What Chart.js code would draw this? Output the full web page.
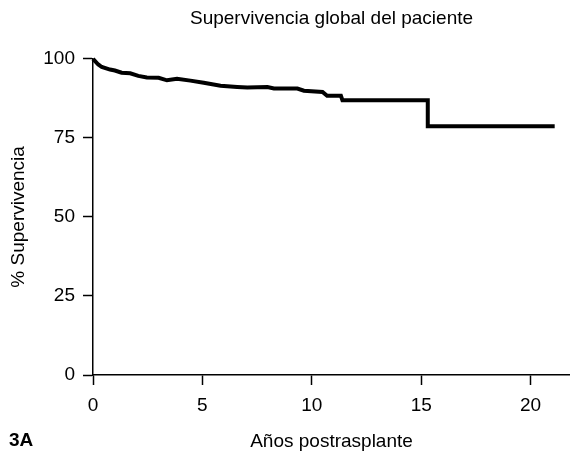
<!DOCTYPE html>
<html>
<head>
<meta charset="utf-8">
<script src="https://cdn.jsdelivr.net/npm/chart.js@4.4.1/dist/chart.umd.min.js"></script>
<style>
  html, body { margin: 0; padding: 0; background: #fff; }
  #wrap { width: 570px; height: 457px; }
</style>
</head>
<body>
<div id="wrap"><canvas id="chart" width="570" height="457"></canvas></div>
<script>
// Kaplan-Meier curve
const years = [0, 0.24, 0.4, 0.78, 1.0, 1.31, 1.7, 2.07, 2.46, 3.0, 3.38, 3.84, 4.45, 5.06, 5.83, 6.59, 7.05, 7.97, 8.27, 9.34, 9.64, 10.49, 10.7, 11.33, 11.4, 15.3, 15.3, 21.1];
const survival = [100, 98.2, 97.4, 96.6, 96.3, 95.6, 95.4, 94.6, 94.1, 94.0, 93.2, 93.7, 93.1, 92.4, 91.5, 91.1, 90.9, 91.1, 90.6, 90.6, 89.9, 89.5, 88.3, 88.3, 86.9, 86.9, 78.7, 78.7];
const xTicks = [0, 5, 10, 15, 20];
const yTicks = [0, 25, 50, 75, 100];

const FONT = "'Liberation Sans', Arial, Helvetica, sans-serif";

// "3A" panel label bottom-left
const panelLabel = {
    id: 'panelLabel',
    afterDraw(chart) {
        const ctx = chart.ctx;
        ctx.save();
        ctx.font = 'bold 19px ' + FONT;
        ctx.fillStyle = '#000';
        ctx.textBaseline = 'middle';
        ctx.fillText('3A', 9, 441);
        ctx.restore();
    }
};

new Chart(document.getElementById('chart'), {
    type: 'line',
    data: {
        datasets: [{
            data: years.map((x, i) => ({ x: x, y: survival[i] })),
            borderColor: '#000',
            borderWidth: 4,
            pointRadius: 0,
            tension: 0,
            fill: false,
            clip: false
        }]
    },
    options: {
        responsive: false,
        animation: false,
        layout: { padding: 0 },
        plugins: {
            legend: { display: false },
            tooltip: { enabled: false },
            title: {
                display: true,
                fullSize: false,
                text: 'Supervivencia global del paciente',
                color: '#000',
                font: { family: FONT, size: 19, weight: 'normal' },
                padding: { top: 7, bottom: 29 },
                align: 'center'
            }
        },
        scales: {
            x: {
                type: 'linear',
                min: 0,
                max: 21.8,
                afterBuildTicks: (scale) => { scale.ticks = xTicks.map(v => ({ value: v })); },
                afterFit: (scale) => { scale.height = 82; },
                grid: { drawOnChartArea: false, color: '#000', tickLength: 10, tickWidth: 1.5 },
                border: { display: true, color: '#000', width: 1.5 },
                ticks: { color: '#000', font: { family: FONT, size: 19 }, padding: 9, maxRotation: 0 },
                title: { display: true, text: 'Años postrasplante', color: '#000', font: { family: FONT, size: 19 }, padding: { top: 6 } }
            },
            y: {
                min: 0,
                max: 100,
                afterBuildTicks: (scale) => { scale.ticks = yTicks.map(v => ({ value: v })); },
                afterFit: (scale) => { scale.width = 93; },
                grid: { drawOnChartArea: false, color: '#000', tickLength: 10, tickWidth: 1.5 },
                border: { display: true, color: '#000', width: 1.5 },
                ticks: { color: '#000', font: { family: FONT, size: 19 }, padding: 8 },
                title: { display: true, text: '% Supervivencia', color: '#000', font: { family: FONT, size: 19 }, padding: { top: 7, bottom: 0 } }
            }
        }
    },
    plugins: [panelLabel]
});
</script>
</body>
</html>
